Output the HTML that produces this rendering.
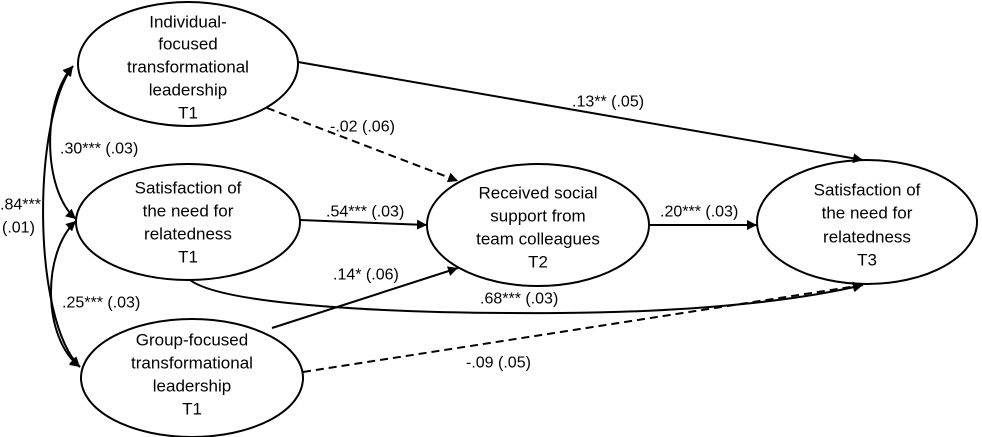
<!DOCTYPE html>
<html><head><meta charset="utf-8"><style>
html,body{margin:0;padding:0;background:#fff;}
svg{display:block;}
text{font-family:"Liberation Sans",Arial,sans-serif;font-size:17px;fill:#000;}
.l{font-size:16px;}
</style></head><body>
<svg width="982" height="437" viewBox="0 0 982 437" xmlns="http://www.w3.org/2000/svg">
<defs>
<marker id="a" viewBox="0 0 10 10" refX="10" refY="5" markerWidth="10" markerHeight="10" markerUnits="userSpaceOnUse" orient="auto-start-reverse">
<path d="M0,0 L10,5 L0,10 z" fill="#000"/></marker>
</defs>
<g fill="none" stroke="#000" stroke-width="2">
<ellipse cx="188" cy="64" rx="110" ry="62"/>
<ellipse cx="188" cy="222" rx="112" ry="58"/>
<ellipse cx="192" cy="378" rx="111" ry="59"/>
<ellipse cx="538" cy="225" rx="111" ry="61"/>
<ellipse cx="867" cy="222" rx="110" ry="62"/>
<line x1="298" y1="62" x2="863" y2="160" marker-end="url(#a)"/>
<line x1="267" y1="108" x2="458" y2="181" stroke-dasharray="8,5" marker-end="url(#a)"/>
<line x1="300" y1="220" x2="427" y2="225" marker-end="url(#a)"/>
<line x1="272" y1="328" x2="458" y2="268" marker-end="url(#a)"/>
<path d="M190,280 C225,306 400,314 560,313 C700,312 800,300 863,285" marker-end="url(#a)"/>
<line x1="303" y1="372" x2="863" y2="285" stroke-dasharray="8,5" marker-end="url(#a)"/>
<line x1="649" y1="225" x2="757" y2="225" marker-end="url(#a)"/>
<path d="M73,66 C42,100 42,190 76,219" marker-start="url(#a)" marker-end="url(#a)"/>
<path d="M76,221 C42,252 42,338 80,367" marker-start="url(#a)" marker-end="url(#a)"/>
<path d="M73,66 C32,120 32,320 80,367" marker-start="url(#a)" marker-end="url(#a)"/>
</g>
<g text-anchor="middle" dominant-baseline="central">
<text x="188" y="22">Individual-</text>
<text x="188" y="44">focused</text>
<text x="188" y="67">transformational</text>
<text x="188" y="90">leadership</text>
<text x="188" y="113">T1</text>
<text x="188" y="188">Satisfaction of</text>
<text x="188" y="211">the need for</text>
<text x="188" y="234">relatedness</text>
<text x="188" y="257">T1</text>
<text x="192" y="340">Group-focused</text>
<text x="192" y="363">transformational</text>
<text x="192" y="386">leadership</text>
<text x="192" y="409">T1</text>
<text x="538" y="193">Received social</text>
<text x="538" y="216">support from</text>
<text x="538" y="239">team colleagues</text>
<text x="538" y="262">T2</text>
<text x="867" y="190">Satisfaction of</text>
<text x="867" y="213">the need for</text>
<text x="867" y="237">relatedness</text>
<text x="867" y="260">T3</text>
</g>
<g class="l" dominant-baseline="central">
<text class="l" x="572" y="102">.13** (.05)</text>
<text class="l" x="330" y="127">-.02 (.06)</text>
<text class="l" x="326" y="212">.54*** (.03)</text>
<text class="l" x="333" y="275">.14* (.06)</text>
<text class="l" x="480" y="299">.68*** (.03)</text>
<text class="l" x="466" y="363">-.09 (.05)</text>
<text class="l" x="660" y="212">.20*** (.03)</text>
<text class="l" x="60" y="149">.30*** (.03)</text>
<text class="l" x="62" y="303">.25*** (.03)</text>
<text class="l" x="0" y="205">.84***</text>
<text class="l" x="2" y="228">(.01)</text>
</g>
</svg>
</body></html>
